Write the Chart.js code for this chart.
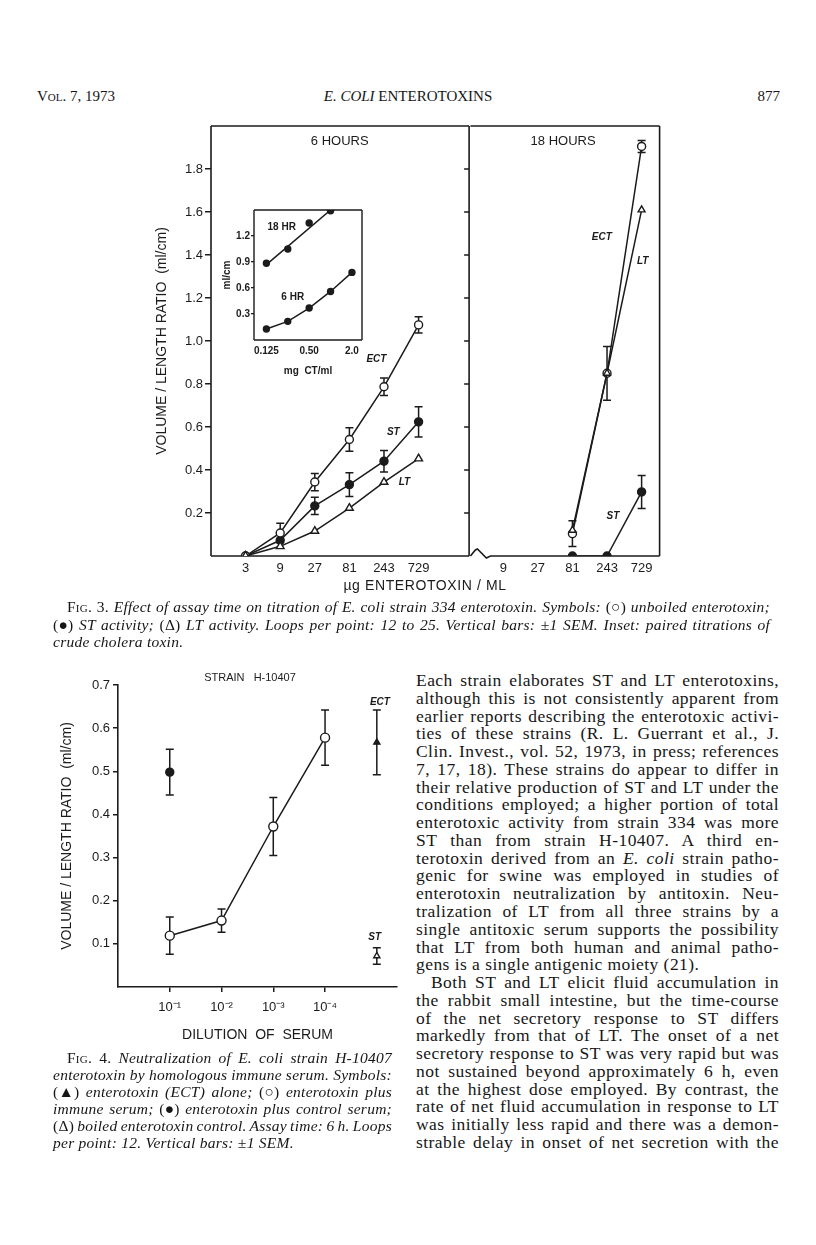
<!DOCTYPE html>
<html>
<head>
<meta charset="utf-8">
<title>E. coli enterotoxins</title>
<script src="https://cdn.jsdelivr.net/npm/chart.js@4.4.1/dist/chart.umd.min.js"></script>
<style>
  body { margin: 0; background: #fff; }
  #page { position: relative; width: 816px; height: 1245px; overflow: hidden; background: #fff;
          font-family: "Liberation Serif", "DejaVu Serif", serif; color: #161616; }
  #page canvas { position: absolute; }
  .blk { position: absolute; }
  .ln { position: absolute; left: 0; white-space: nowrap; }
  .sc { font-style: normal; font-variant: small-caps; }
  .up { font-style: normal; }
</style>
</head>
<body>
<div id="page">
  <div class="blk" style="left:37px;top:87px;font-size:15px;line-height:18px;"><span class="sc">Vol.</span> 7, 1973</div>
  <div class="blk" style="left:258px;top:87px;width:300px;text-align:center;font-size:15px;line-height:18px;"><i>E. COLI</i> ENTEROTOXINS</div>
  <div class="blk" style="left:700px;top:87px;width:80px;text-align:right;font-size:15px;line-height:18px;">877</div>

  <canvas id="fig3a" width="325" height="500" style="left:150px;top:110px;"></canvas>
  <canvas id="fig3b" width="200" height="500" style="left:465px;top:110px;"></canvas>
  <canvas id="fig3i" width="155" height="185" style="left:215px;top:200px;"></canvas>
  <div class="blk" style="left:305px;top:576px;width:240px;text-align:center;font-family:'Liberation Sans',Arial,sans-serif;font-size:14px;line-height:18px;letter-spacing:0.6px;color:#1b1b1b;">µg ENTEROTOXIN / ML</div>

  <div id="cap3" class="blk" style="left:53px;top:598px;width:717px;height:54px;font-size:15.5px;letter-spacing:0.25px;font-style:italic;"></div>

  <canvas id="fig4" width="358" height="390" style="left:52px;top:665px;"></canvas>
  <div id="cap4" class="blk" style="left:53px;top:1049px;width:339px;height:110px;font-size:15.5px;letter-spacing:0.25px;font-style:italic;"></div>

  <div id="body" class="blk" style="left:416px;top:672px;width:363px;height:490px;font-size:17.5px;letter-spacing:0.45px;"></div>
</div>

<script>
// ---- Fig. 3, 6 hours (µg enterotoxin / ml) ----
const doses6 = [3, 9, 27, 81, 243, 729];
const ect6 = [0, 0.107, 0.344, 0.542, 0.787, 1.075];
const ect6Sem = [0, 0.045, 0.04, 0.055, 0.041, 0.038];
const st6 = [0, 0.073, 0.233, 0.332, 0.441, 0.624];
const st6Sem = [0, 0, 0.04, 0.055, 0.05, 0.07];
const lt6 = [0, 0.045, 0.116, 0.223, 0.344, 0.453];

// ---- Fig. 3, 18 hours ----
const ticks18 = [9, 27, 81, 243, 729];
const doses18 = [81, 243, 729];
const ect18 = [0.104, 0.85, 1.905];
const ect18Sem = [0.06, 0.125, 0.028];
const lt18 = [0.12, 0.85, 1.61];
const st18 = [0, 0, 0.298];
const st18Sem = [0, 0, 0.077];

// ---- Fig. 3 inset, crude cholera toxin (mg CT/ml) ----
const insetDoses = [0.125, 0.25, 0.5, 1, 2];
const insetTicks = [0.125, 0.5, 2];
const insetTickLabels = ['0.125', '0.50', '2.0'];
const inset18 = [0.885, 1.05, 1.35, 1.49];
const inset18FitDoses = [0.125, 1];
const inset18Fit = [0.87, 1.5];
const inset6 = [0.127, 0.215, 0.369, 0.56, 0.78];

// ---- Fig. 4, strain H-10407 ----
const dilutions = ['10⁻¹', '10⁻²', '10⁻³', '10⁻⁴'];
const immune = [0.119, 0.154, 0.372, 0.578];
const immuneSem = [0.043, 0.027, 0.067, 0.064];
const control = [0.498];
const controlSem = [0.053];
const ectAlone = [0.567];
const ectAloneSem = [0.075];
const boiled = [0.072];
const boiledSem = [0.019];

// ---- texto ----
const cap3Lines = [
  '<span class="up"><span class="sc">Fig.</span> 3.</span> Effect of assay time on titration of E. coli strain 334 enterotoxin. Symbols: <span class="up">(○)</span> unboiled enterotoxin;',
  '<span class="up">(●)</span> ST activity; <span class="up">(Δ)</span> LT activity. Loops per point: 12 to 25. Vertical bars: ±1 SEM. Inset: paired titrations of',
  'crude cholera toxin.'
];
const cap4Lines = [
  '<span class="up"><span class="sc">Fig.</span> 4.</span> Neutralization of E. coli strain H-10407',
  'enterotoxin by homologous immune serum. Symbols:',
  '<span class="up">(▲)</span> enterotoxin (ECT) alone; <span class="up">(○)</span> enterotoxin plus',
  'immune serum; <span class="up">(●)</span> enterotoxin plus control serum;',
  '<span class="up">(Δ)</span> boiled enterotoxin control. Assay time: 6 h. Loops',
  'per point: 12. Vertical bars: ±1 SEM.'
];
const bodyLines = [
  'Each strain elaborates ST and LT enterotoxins,',
  'although this is not consistently apparent from',
  'earlier reports describing the enterotoxic activi-',
  'ties of these strains (R. L. Guerrant et al., J.',
  'Clin. Invest., vol. 52, 1973, in press; references',
  '7, 17, 18). These strains do appear to differ in',
  'their relative production of ST and LT under the',
  'conditions employed; a higher portion of total',
  'enterotoxic activity from strain 334 was more',
  'ST than from strain H-10407. A third en-',
  'terotoxin derived from an <i>E. coli</i> strain patho-',
  'genic for swine was employed in studies of',
  'enterotoxin neutralization by antitoxin. Neu-',
  'tralization of LT from all three strains by a',
  'single antitoxic serum supports the possibility',
  'that LT from both human and animal patho-',
  'gens is a single antigenic moiety (21).',
  'Both ST and LT elicit fluid accumulation in',
  'the rabbit small intestine, but the time-course',
  'of the net secretory response to ST differs',
  'markedly from that of LT. The onset of a net',
  'secretory response to ST was very rapid but was',
  'not sustained beyond approximately 6 h, even',
  'at the highest dose employed. By contrast, the',
  'rate of net fluid accumulation in response to LT',
  'was initially less rapid and there was a demon-',
  'strable delay in onset of net secretion with the'
];

document.addEventListener('DOMContentLoaded', function () {
  // líneas justificadas a mano, una por renglón
  function setLines(box, lines, lh, indentRows, lastRows, indent) {
    const width = box.clientWidth;
    lines.forEach((t, i) => {
      const d = document.createElement('div');
      d.className = 'ln';
      d.style.top = (i * lh) + 'px';
      d.style.lineHeight = lh + 'px';
      const pad = indentRows.includes(i) ? indent : 0;
      d.style.left = pad + 'px';
      d.innerHTML = '<span>' + t + '</span>';
      box.appendChild(d);
      if (lastRows.includes(i)) return;
      const span = d.firstChild;
      const natural = span.getBoundingClientRect().width;
      const gaps = (span.textContent.match(/ /g) || []).length;
      if (gaps) span.style.wordSpacing = ((width - pad - natural) / gaps) + 'px';
    });
  }
  setLines(document.getElementById('cap3'), cap3Lines, 17.5, [0], [2], 14);
  setLines(document.getElementById('cap4'), cap4Lines, 17, [0], [5], 14);
  setLines(document.getElementById('body'), bodyLines, 17.77, [17], [16], 15);

  if (typeof Chart === 'undefined') {
    console.error('Chart.js no está cargado');
    return;
  }

  const INK = '#1b1b1b';
  const SANS = '"Liberation Sans", Arial, sans-serif';
  const l3 = d => Math.log(d) / Math.log(3);
  const l2 = d => Math.log2(d);
  const pts = (xs, ys, f) => ys.map((y, i) => ({ x: f(xs[i]), y: y }));

  function series(data, shape, filled, extra) {
    return Object.assign({
      data: data,
      borderColor: INK,
      borderWidth: 1.5,
      pointRadius: 4,
      pointBorderWidth: 1.4,
      pointBorderColor: INK,
      pointBackgroundColor: filled ? INK : '#fff',
      pointStyle: shape,
      showLine: true,
      tension: 0
    }, extra || {});
  }

  // barras de error ±1 SEM
  const errorBars = {
    id: 'errorBars',
    beforeDatasetsDraw(chart) {
      const ctx = chart.ctx, sx = chart.scales.x, sy = chart.scales.y;
      ctx.save();
      ctx.strokeStyle = INK;
      ctx.lineWidth = 1.5;
      chart.data.datasets.forEach(ds => {
        if (!ds.sem) return;
        ds.data.forEach((p, i) => {
          const s = ds.sem[i];
          if (!s) return;
          const x = sx.getPixelForValue(p.x);
          const y1 = sy.getPixelForValue(p.y + s);
          const y2 = sy.getPixelForValue(p.y - s);
          ctx.beginPath();
          ctx.moveTo(x, y1); ctx.lineTo(x, y2);
          ctx.moveTo(x - 4, y1); ctx.lineTo(x + 4, y1);
          ctx.moveTo(x - 4, y2); ctx.lineTo(x + 4, y2);
          ctx.stroke();
        });
      });
      ctx.restore();
    }
  };

  function makeFrame(sides) {
    return {
      id: 'frame',
      beforeDatasetsDraw(chart) {
        const ctx = chart.ctx, a = chart.chartArea;
        ctx.save();
        ctx.strokeStyle = INK;
        ctx.lineWidth = sides.width || 1.6;
        ctx.beginPath();
        if (sides.top) { ctx.moveTo(a.left, a.top); ctx.lineTo(a.right, a.top); }
        if (sides.right) { ctx.moveTo(a.right, a.top); ctx.lineTo(a.right, a.bottom); }
        if (sides.left) { ctx.moveTo(a.left, a.top); ctx.lineTo(a.left, a.bottom); }
        if (sides.bottom) { ctx.moveTo(a.left, a.bottom); ctx.lineTo(a.right, a.bottom); }
        if (sides.brokenBottom) {
          ctx.moveTo(a.left, a.bottom);
          ctx.lineTo(a.left + 5, a.bottom - 6);
          ctx.lineTo(a.left + 7, a.bottom - 7);
          ctx.lineTo(a.left + 16, a.bottom + 2);
          ctx.lineTo(a.left + 20, a.bottom);
          ctx.lineTo(a.right, a.bottom);
        }
        if (sides.innerRightTicks) {
          chart.scales.y.ticks.forEach(t => {
            if (t.value < 0.05 || t.value > 1.95) return;
            const y = chart.scales.y.getPixelForValue(t.value);
            ctx.moveTo(a.right - 5, y); ctx.lineTo(a.right, y);
          });
        }
        ctx.stroke();
        ctx.restore();
      }
    };
  }

  function makeNotes(items) {
    return {
      id: 'notes',
      afterDraw(chart) {
        const ctx = chart.ctx, sx = chart.scales.x, sy = chart.scales.y;
        ctx.save();
        ctx.fillStyle = INK;
        ctx.textAlign = 'center';
        ctx.textBaseline = 'middle';
        items.forEach(n => {
          ctx.font = n.font;
          ctx.fillText(n.text, sx.getPixelForValue(n.x), sy.getPixelForValue(n.y));
        });
        ctx.restore();
      }
    };
  }

  const hideEnds = (lo, hi) => c => (c.tick && (c.tick.value < lo || c.tick.value > hi)) ? 'rgba(0,0,0,0)' : INK;

  function baseOptions(pad, xScale, yScale) {
    return {
      responsive: false,
      animation: false,
      events: [],
      layout: { padding: pad },
      plugins: { legend: { display: false }, tooltip: { enabled: false } },
      scales: { x: xScale, y: yScale }
    };
  }

  const tickFont = { family: SANS, size: 13 };
  const labelFont = 'italic bold 10px ' + SANS;

  // ---------- Fig. 3, panel 6 HOURS ----------
  new Chart(document.getElementById('fig3a'), {
    type: 'line',
    data: {
      datasets: [
        series(pts(doses6, lt6, l3), 'triangle', false, { pointRadius: 4.5 }),
        series(pts(doses6, ect6, l3), 'circle', false, { sem: ect6Sem }),
        series(pts(doses6, st6, l3), 'circle', true, { sem: st6Sem })
      ]
    },
    options: baseOptions({ top: 16, right: 5, left: 0, bottom: 0 },
      {
        type: 'linear', min: 0, max: 7.46,
        afterBuildTicks: s => { s.ticks = doses6.map(d => ({ value: l3(d) })); },
        afterFit: s => { s.height = 54; },
        grid: { display: false, drawTicks: false },
        border: { display: false },
        ticks: { color: INK, font: tickFont, padding: 5, maxRotation: 0, autoSkip: false,
                 callback: v => String(Math.round(Math.pow(3, v))) }
      },
      {
        type: 'linear', min: 0, max: 2.0,
        afterFit: s => { s.width = 61; },
        border: { display: false },
        grid: { drawOnChartArea: false, drawTicks: true, tickLength: 6, lineWidth: 1.5, color: hideEnds(0.05, 1.95) },
        ticks: { stepSize: 0.2, padding: 2, color: INK, font: tickFont,
                 callback: v => (v > 0.05 && v < 1.95) ? v.toFixed(1) : '' },
        title: { display: true, text: 'VOLUME / LENGTH RATIO  (ml/cm)', color: INK,
                 font: { family: SANS, size: 14 }, padding: { top: 4 } }
      }),
    plugins: [
      makeFrame({ top: true, right: true, left: true, bottom: true, innerRightTicks: true }),
      errorBars,
      makeNotes([
        { text: '6 HOURS', x: 3.72, y: 1.926, font: '13px ' + SANS },
        { text: 'ECT', x: 4.78, y: 0.916, font: labelFont },
        { text: 'ST', x: 5.27, y: 0.577, font: labelFont },
        { text: 'LT', x: 5.59, y: 0.344, font: labelFont }
      ])
    ]
  });

  // ---------- Fig. 3, panel 18 HOURS ----------
  new Chart(document.getElementById('fig3b'), {
    type: 'line',
    data: {
      datasets: [
        series(pts(doses18, lt18, l3), 'triangle', false, { pointRadius: 4 }),
        series(pts(doses18, ect18, l3), 'circle', false, { sem: ect18Sem }),
        series(pts(doses18, st18, l3), 'circle', true, { sem: st18Sem })
      ]
    },
    options: baseOptions({ top: 16, right: 5, left: 5, bottom: 0 },
      {
        type: 'linear', min: 1.05, max: 6.52,
        afterBuildTicks: s => { s.ticks = ticks18.map(d => ({ value: l3(d) })); },
        afterFit: s => { s.height = 54; },
        grid: { display: false, drawTicks: false },
        border: { display: false },
        ticks: { color: INK, font: tickFont, padding: 5, maxRotation: 0, autoSkip: false,
                 callback: v => String(Math.round(Math.pow(3, v))) }
      },
      { type: 'linear', min: 0, max: 2.0, display: false }),
    plugins: [
      makeFrame({ top: true, right: true, brokenBottom: true }),
      errorBars,
      makeNotes([
        { text: '18 HOURS', x: 3.73, y: 1.926, font: '13px ' + SANS },
        { text: 'ECT', x: 4.85, y: 1.484, font: labelFont },
        { text: 'LT', x: 6.03, y: 1.372, font: labelFont },
        { text: 'ST', x: 5.17, y: 0.186, font: labelFont }
      ])
    ]
  });

  // ---------- Fig. 3, inset ----------
  const smallFont = { family: SANS, size: 10, weight: 'bold' };
  new Chart(document.getElementById('fig3i'), {
    type: 'line',
    data: {
      datasets: [
        series(pts(inset18FitDoses, inset18Fit, l2), 'circle', true, { pointRadius: 0 }),
        series(pts(insetDoses, inset18, l2), 'circle', true, { showLine: false, pointRadius: 3 }),
        series(pts(insetDoses, inset6, l2), 'circle', true, { pointRadius: 3 })
      ]
    },
    options: baseOptions({ top: 10, right: 8, left: 0, bottom: 0 },
      {
        type: 'linear', min: -3.58, max: 1.47,
        afterBuildTicks: s => { s.ticks = insetTicks.map(d => ({ value: l2(d) })); },
        afterFit: s => { s.height = 45; },
        grid: { display: false, drawTicks: false },
        border: { display: false },
        ticks: { color: INK, font: smallFont, padding: 5, maxRotation: 0, autoSkip: false,
                 callback: (v, i) => insetTickLabels[i] },
        title: { display: true, text: 'mg  CT/ml', color: INK, font: { family: SANS, size: 10, weight: 'bold' },
                 padding: { bottom: 8 } }
      },
      {
        type: 'linear', min: 0, max: 1.5,
        afterFit: s => { s.width = 39; },
        border: { display: false },
        grid: { drawOnChartArea: false, tickLength: 3, lineWidth: 1.3, color: hideEnds(0.05, 1.45) },
        ticks: { stepSize: 0.3, padding: 1, color: INK, font: smallFont,
                 callback: v => (v > 0.05 && v < 1.45) ? v.toFixed(1) : '' },
        title: { display: true, text: 'ml/cm', color: INK, font: { family: SANS, size: 10, weight: 'bold' },
                 padding: { top: 6 } }
      }),
    plugins: [
      makeFrame({ top: true, right: true, left: true, bottom: true, width: 1.4 }),
      makeNotes([
        { text: '18 HR', x: -2.285, y: 1.30, font: 'bold 10px ' + SANS },
        { text: '6 HR', x: -1.77, y: 0.488, font: 'bold 10px ' + SANS }
      ])
    ]
  });

  // ---------- Fig. 4 ----------
  const ctrlPos = dilutions.length + 1;
  new Chart(document.getElementById('fig4'), {
    type: 'line',
    data: {
      datasets: [
        series(immune.map((v, i) => ({ x: i + 1, y: v })), 'circle', false, { sem: immuneSem, pointRadius: 4.5 }),
        series(control.map(v => ({ x: 1, y: v })), 'circle', true, { sem: controlSem, showLine: false }),
        series(ectAlone.map(v => ({ x: ctrlPos, y: v })), 'triangle', true, { sem: ectAloneSem, showLine: false, pointRadius: 3.5 }),
        series(boiled.map(v => ({ x: ctrlPos, y: v })), 'triangle', false, { sem: boiledSem, showLine: false, pointRadius: 3.5 })
      ]
    },
    options: baseOptions({ top: 20, right: 13, left: 0, bottom: 0 },
      {
        type: 'linear', min: 0, max: 5.39,
        afterBuildTicks: s => { s.ticks = dilutions.map((d, i) => ({ value: i + 1 })); },
        afterFit: s => { s.height = 68; },
        border: { display: true, color: INK, width: 1.6 },
        grid: { drawOnChartArea: false, tickLength: 5, lineWidth: 1.5, color: INK },
        ticks: { color: INK, font: { family: SANS, size: 13 }, padding: 8, maxRotation: 0, autoSkip: false,
                 callback: (v, i) => dilutions[i] },
        title: { display: true, text: 'DILUTION  OF  SERUM', color: INK, font: { family: SANS, size: 14 },
                 padding: { bottom: 11 } }
      },
      {
        type: 'linear', min: 0, max: 0.7,
        afterFit: s => { s.width = 66; },
        border: { display: true, color: INK, width: 1.6 },
        grid: { drawOnChartArea: false, tickLength: 5, lineWidth: 1.5, color: hideEnds(0.05, 0.75) },
        ticks: { stepSize: 0.1, padding: 3, color: INK, font: tickFont,
                 callback: v => v > 0.05 ? v.toFixed(1) : '' },
        title: { display: true, text: 'VOLUME / LENGTH RATIO  (ml/cm)', color: INK,
                 font: { family: SANS, size: 14 }, padding: { top: 7 } }
      }),
    plugins: [
      errorBars,
      makeNotes([
        { text: 'STRAIN   H-10407', x: 2.55, y: 0.716, font: '11px ' + SANS },
        { text: 'ECT', x: 5.06, y: 0.66, font: labelFont },
        { text: 'ST', x: 4.96, y: 0.116, font: labelFont }
      ])
    ]
  });
});
</script>
</body>
</html>
